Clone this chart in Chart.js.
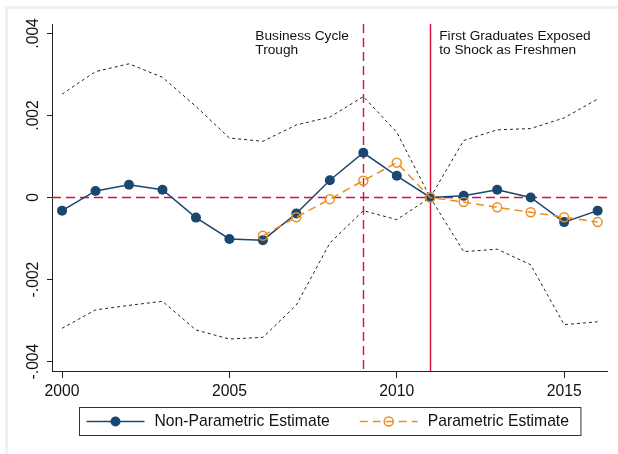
<!DOCTYPE html>
<html>
<head>
<meta charset="utf-8">
<script src="https://cdn.jsdelivr.net/npm/chart.js@4"></script>
<style>
  html, body { margin: 0; background: #fff; overflow: hidden; }
  #frame { position: absolute; left: 5px; top: 6px; width: 640px; height: 480px; border-left: 3px solid #edf1f5; border-top: 3px solid #edf1f5; }
  #wrap { position: absolute; left: 0; top: 0; width: 618px; height: 454px; }
</style>
</head>
<body>
<div id="frame"></div>
<div id="wrap"><canvas id="chart" width="618" height="454"></canvas></div>
<script>
const years = [2000, 2001, 2002, 2003, 2004, 2005, 2006, 2007, 2008, 2009, 2010, 2011, 2012, 2013, 2014, 2015, 2016];
const nonParametric = [-0.00032, 0.00016, 0.00031, 0.00019, -0.00049, -0.00101, -0.00104, -0.00039, 0.00042, 0.00109, 0.00053, 0, 0.00004, 0.00019, 0, -0.0006, -0.00032];
const upperCI = [0.00252, 0.00307, 0.00326, 0.00293, 0.00222, 0.00145, 0.00137, 0.00177, 0.00196, 0.00246, 0.00159, 0, 0.00139, 0.00165, 0.00168, 0.00194, 0.0024];
const lowerCI = [-0.00319, -0.00274, -0.00263, -0.00253, -0.00323, -0.00345, -0.00341, -0.00262, -0.00111, -0.00032, -0.00054, 0, -0.00132, -0.00126, -0.00164, -0.0031, -0.00303];

const paramYears = [2006, 2007, 2008, 2009, 2010, 2011, 2012, 2013, 2014, 2015, 2016];
const parametric = [-0.00093, -0.00048, -0.00004, 0.00041, 0.00085, 0, -0.00011, -0.00024, -0.00036, -0.00048, -0.0006];

const xTicks = [2000, 2005, 2010, 2015];
const yTicks = [-0.004, -0.002, 0, 0.002, 0.004];
const yTickLabels = ["-.004", "-.002", "0", ".002", ".004"];

const troughYear = 2009;
const exposedYear = 2011;
const troughNote = ["Business Cycle", "Trough"];
const exposedNote = ["First Graduates Exposed", "to Shock as Freshmen"];
const legendOrder = ["Non-Parametric Estimate", "Parametric Estimate"];

const FONT = "'Liberation Sans', Arial, sans-serif";
const navy = "#1a476f";
const orange = "#eb9020";
const red = "#d8103f";

function pairs(xs, ys) {
  return xs.map((x, i) => ({ x: x, y: ys[i] }));
}

// snap to pixel centres so the thin red lines stay crisp
const snap = v => Math.round(v - 0.5) + 0.5;

// red reference lines sit behind the series
const refLines = {
  id: "refLines",
  beforeDatasetsDraw(chart) {
    const { ctx, chartArea: a, scales } = chart;
    const y0 = snap(scales.y.getPixelForValue(0));
    const xt = snap(scales.x.getPixelForValue(troughYear));
    const xe = snap(scales.x.getPixelForValue(exposedYear));
    ctx.save();
    ctx.strokeStyle = red;
    ctx.lineWidth = 1.4;
    ctx.setLineDash([9, 5]);
    ctx.beginPath();
    ctx.moveTo(a.left, y0);
    ctx.lineTo(a.right, y0);
    ctx.moveTo(xt, a.top);
    ctx.lineTo(xt, a.bottom);
    ctx.stroke();
    ctx.setLineDash([]);
    ctx.beginPath();
    ctx.moveTo(xe, a.top);
    ctx.lineTo(xe, a.bottom);
    ctx.stroke();
    ctx.restore();
  }
};

const extras = {
  id: "extras",
  afterDraw(chart) {
    const { ctx, chartArea: a, scales } = chart;
    ctx.save();

    // notes next to the vertical lines
    ctx.fillStyle = "#111";
    ctx.font = "13.7px " + FONT;
    ctx.textAlign = "left";
    ctx.textBaseline = "alphabetic";
    const xt = scales.x.getPixelForValue(troughYear) - 108;
    const xe = scales.x.getPixelForValue(exposedYear) + 9;
    troughNote.forEach((t, i) => ctx.fillText(t, xt, 39.5 + i * 14));
    exposedNote.forEach((t, i) => ctx.fillText(t, xe, 39.5 + i * 14));

    // rotated y tick labels
    ctx.font = "15.7px " + FONT;
    ctx.textAlign = "center";
    ctx.textBaseline = "middle";
    yTicks.forEach((v, i) => {
      ctx.save();
      ctx.translate(33.5, scales.y.getPixelForValue(v));
      ctx.rotate(-Math.PI / 2);
      ctx.fillText(yTickLabels[i], 0, 0);
      ctx.restore();
    });

    // legend box
    const items = legendOrder.map(l => chart.data.datasets.find(d => d.label === l));
    const symW = 58, gap = 10, between = 30, padL = 7, padR = 12;
    let total = padL + padR;
    items.forEach((d, i) => {
      total += symW + gap + ctx.measureText(d.label).width + (i ? between : 0);
    });
    const boxL = Math.round((a.left + a.right) / 2 - total / 2) + 0.5;
    const boxT = 407.5, boxH = 28;
    const cy = boxT + boxH / 2;
    ctx.strokeStyle = "#333";
    ctx.lineWidth = 1;
    ctx.strokeRect(boxL, boxT, total, boxH);

    let x = boxL + padL;
    items.forEach(d => {
      ctx.strokeStyle = d.borderColor;
      ctx.lineWidth = 1.5;
      ctx.setLineDash(d.borderDash || []);
      ctx.beginPath();
      ctx.moveTo(x, cy);
      ctx.lineTo(x + symW, cy);
      ctx.stroke();
      ctx.setLineDash([]);
      ctx.beginPath();
      ctx.arc(x + symW / 2, cy, d.pointRadius, 0, Math.PI * 2);
      if (d.pointBackgroundColor !== "rgba(0,0,0,0)") {
        ctx.fillStyle = d.pointBackgroundColor;
        ctx.fill();
      } else {
        ctx.stroke();
      }
      x += symW + gap;
      ctx.fillStyle = "#111";
      ctx.textAlign = "left";
      ctx.fillText(d.label, x, cy + 0.5);
      x += ctx.measureText(d.label).width + between;
    });
    ctx.restore();
  }
};

new Chart(document.getElementById("chart").getContext("2d"), {
  type: "line",
  data: {
    datasets: [
      {
        label: "Parametric Estimate",
        data: pairs(paramYears, parametric),
        borderColor: orange,
        borderWidth: 1.5,
        borderDash: [8, 5],
        pointRadius: 4.5,
        pointBorderWidth: 1.5,
        pointBorderColor: orange,
        pointBackgroundColor: "rgba(0,0,0,0)",
      },
      {
        label: "Non-Parametric Estimate",
        data: pairs(years, nonParametric),
        borderColor: navy,
        borderWidth: 1.5,
        pointRadius: 5,
        pointBorderWidth: 0,
        pointBorderColor: navy,
        pointBackgroundColor: navy,
      },
      {
        label: "Upper CI",
        data: pairs(years, upperCI),
        borderColor: "#222",
        borderWidth: 1,
        borderDash: [3, 3],
        pointRadius: 0,
      },
      {
        label: "Lower CI",
        data: pairs(years, lowerCI),
        borderColor: "#222",
        borderWidth: 1,
        borderDash: [3, 3],
        pointRadius: 0,
      },
    ],
  },
  options: {
    responsive: false,
    animation: false,
    layout: { padding: { left: 0, right: 11, top: 24, bottom: 53 } },
    plugins: {
      legend: { display: false },
      tooltip: { enabled: false },
    },
    scales: {
      x: {
        type: "linear",
        min: 1999.7,
        max: 2016.28,
        afterBuildTicks: s => { s.ticks = xTicks.map(v => ({ value: v })); },
        afterFit: s => { s.height = 30; },
        ticks: {
          font: { family: FONT, size: 15.7 },
          color: "#111",
          padding: 4,
          maxRotation: 0,
          autoSkip: false,
          callback: v => String(v),
        },
        grid: { drawOnChartArea: false, tickLength: 7, color: "#222" },
        border: { color: "#222" },
      },
      y: {
        min: -0.00423,
        max: 0.00423,
        afterBuildTicks: s => { s.ticks = yTicks.map(v => ({ value: v })); },
        afterFit: s => { s.width = 52; },
        ticks: { display: false },
        grid: { drawOnChartArea: false, tickLength: 5, color: "#222" },
        border: { color: "#222" },
      },
    },
  },
  plugins: [refLines, extras],
});
</script>
</body>
</html>
